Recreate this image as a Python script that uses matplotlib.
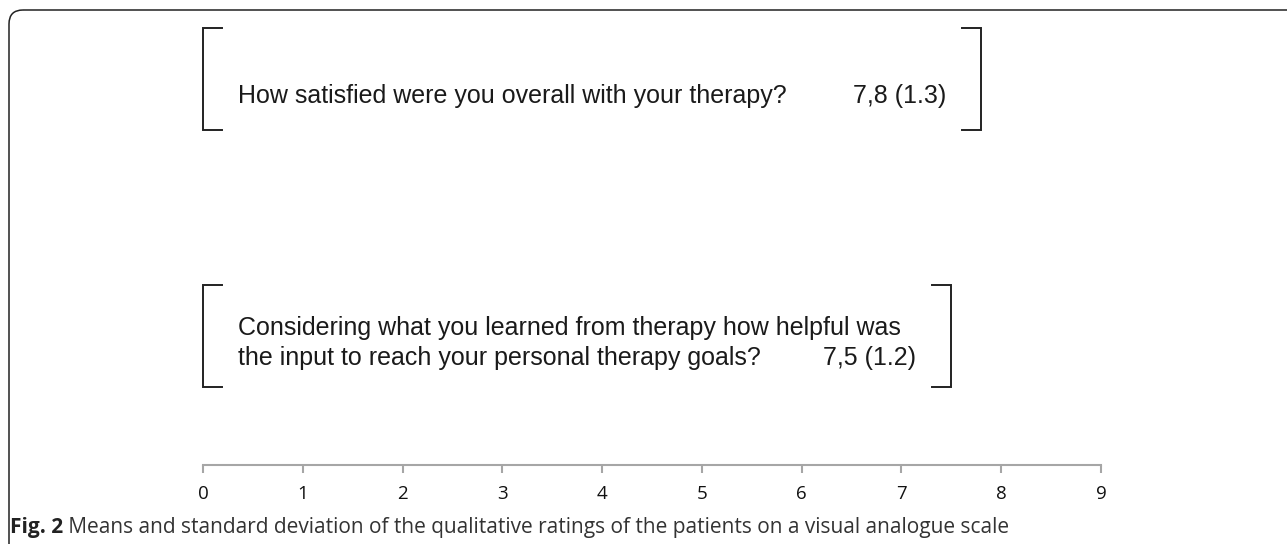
import matplotlib
matplotlib.use("Agg")
import matplotlib.pyplot as plt
from matplotlib.patches import FancyBboxPatch

# ---- data ----
questions = [
    "How satisfied were you overall with your therapy?",
    "Considering what you learned from therapy how helpful was\nthe input to reach your personal therapy goals?",
]
means = [7.8, 7.5]
sds = [1.3, 1.2]
xticks = [0, 1, 2, 3, 4, 5, 6, 7, 8, 9]
caption_bold = "Fig. 2"
caption_text = " Means and standard deviation of the qualitative ratings of the patients on a visual analogue scale"

W, H = 1287, 544
fig = plt.figure(figsize=(W / 100, H / 100), dpi=100)

# background frame axes (pixel coords)
bg = fig.add_axes([0, 0, 1, 1])
bg.set_xlim(0, W)
bg.set_ylim(H, 0)
bg.axis("off")
frame = FancyBboxPatch((9, 10), W + 40, H + 40,
                       boxstyle="round,pad=0,rounding_size=14",
                       fill=False, edgecolor="#222222", linewidth=1.1)
bg.add_patch(frame)

# main axes: x from 0 at px 203 to 9 at px 1101, y in pixel rows from top to 465
x0_px, x9_px, axis_y = 203, 1101, 465
ax = fig.add_axes([x0_px / W, 1 - axis_y / H, (x9_px - x0_px) / W, axis_y / H])
ax.set_xlim(0, 9)
ax.set_ylim(axis_y, 0)
ax.patch.set_alpha(0)
for s in ["top", "right", "left"]:
    ax.spines[s].set_visible(False)
ax.spines["bottom"].set_color("#a6a6a6")
ax.spines["bottom"].set_linewidth(1.5)
ax.set_yticks([])
ax.set_xticks(xticks)
ax.set_xticklabels([str(t) for t in xticks], fontfamily="Open Sans", fontsize=13.5, color="#111111")
ax.tick_params(axis="x", direction="out", length=5.5, width=1.5, color="#a6a6a6", pad=9)

centers = [79, 336]
text_y = [[93], [326, 355]]
half_h = 51
arm = 0.19
for i, (q, m, s) in enumerate(zip(questions, means, sds)):
    c = centers[i]
    y0, y1 = c - half_h, c + half_h
    ax.plot([arm, 0, 0, arm], [y0, y0, y1, y1], color="#222222", lw=1.4, solid_joinstyle="miter", clip_on=False)
    ax.plot([m - arm, m, m, m - arm], [y0, y0, y1, y1], color="#222222", lw=1.4, solid_joinstyle="miter", clip_on=False)
    lines = q.split("\n")
    for ln, ty in zip(lines, text_y[i]):
        ax.text(0.35, ty, ln, ha="left", va="center_baseline",
                fontfamily="Liberation Sans", fontsize=18, color="#1a1a1a")
    lab = f"{m:.1f}".replace(".", ",") + f" ({s:.1f})"
    ax.text(m - 0.35, text_y[i][-1], lab, ha="right", va="center_baseline",
            fontfamily="Liberation Sans", fontsize=18, color="#1a1a1a")

# caption
t1 = fig.text(10 / W, 1 - 527 / H, caption_bold, fontfamily="Open Sans", fontweight="bold",
              fontsize=15, color="#222222", va="center", ha="left")
fig.canvas.draw()
bb = t1.get_window_extent()
fig.text(bb.x1 / W, 1 - 527 / H, caption_text, fontfamily="Open Sans",
         fontsize=15, color="#333333", va="center", ha="left")

fig.savefig("out.png", dpi=100)
